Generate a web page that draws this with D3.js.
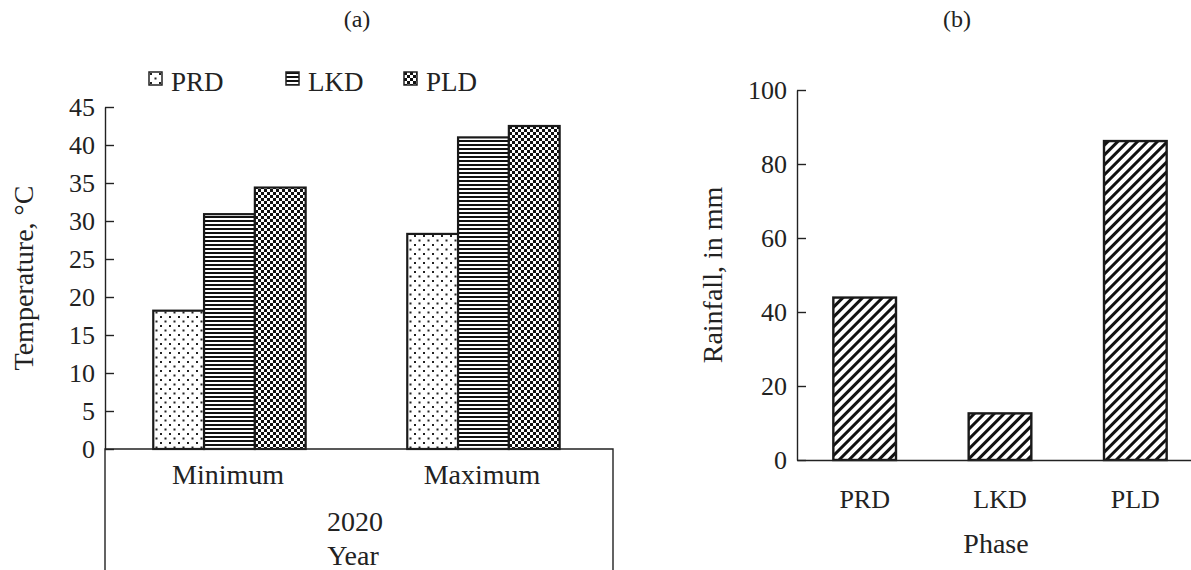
<!DOCTYPE html>
<html>
<head>
<meta charset="utf-8">
<script src="https://cdn.jsdelivr.net/npm/d3@7"></script>
<style>
  html, body { margin: 0; padding: 0; background: #fff; }
  svg { display: block; font-family: "Liberation Serif", "Times New Roman", serif; }
</style>
</head>
<body>
<svg id="chart" width="1191" height="570"></svg>
<script>
// Panel (a): air temperature by lockdown phase, 2020
const tempCategories = ["Minimum", "Maximum"];
const tempSeries = ["PRD", "LKD", "PLD"];
const tempPRD = [18.2, 28.3];
const tempLKD = [30.9, 41.0];
const tempPLD = [34.4, 42.5];
const tempTicks = [0, 5, 10, 15, 20, 25, 30, 35, 40, 45];

// Panel (b): rainfall by phase
const rainPhases = ["PRD", "LKD", "PLD"];
const rainValues = [43.9, 12.6, 86.2];
const rainTicks = [0, 20, 40, 60, 80, 100];

const svg = d3.select("#chart");
const defs = svg.append("defs");

// Fill patterns
function pattern(id, w, h, transform) {
  const p = defs.append("pattern").attr("id", id)
    .attr("patternUnits", "userSpaceOnUse").attr("width", w).attr("height", h);
  if (transform) p.attr("patternTransform", transform);
  p.append("rect").attr("width", w).attr("height", h).attr("fill", "#fff");
  return p;
}
const pDots = pattern("pat-prd", 9, 9);
pDots.append("rect").attr("x", 1).attr("y", 1).attr("width", 2).attr("height", 2).attr("fill", "#222");
pDots.append("rect").attr("x", 5.5).attr("y", 5.5).attr("width", 2).attr("height", 2).attr("fill", "#222");

const pLines = pattern("pat-lkd", 4, 4);
pLines.append("rect").attr("x", 0).attr("y", 0).attr("width", 4).attr("height", 2).attr("fill", "#111");

const pCheck = pattern("pat-pld", 6, 6);
pCheck.append("rect").attr("x", 0).attr("y", 0).attr("width", 3).attr("height", 3).attr("fill", "#111");
pCheck.append("rect").attr("x", 3).attr("y", 3).attr("width", 3).attr("height", 3).attr("fill", "#111");

const pHatch = pattern("pat-hatch", 7, 7, "rotate(45)");
pHatch.append("rect").attr("x", 0).attr("y", 0).attr("width", 3).attr("height", 7).attr("fill", "#111");

const fills = { PRD: "url(#pat-prd)", LKD: "url(#pat-lkd)", PLD: "url(#pat-pld)" };
const FONT = 28;       // axis titles and category labels
const TICK_FONT = 26;  // tick labels
const LEG_FONT = 27;   // legend entries

// ---------- Panel (a) ----------
const aLeft = 105, aRight = 613, aTop = 107, aBottom = 449;
const yA = d3.scaleLinear().domain([0, 45]).range([aBottom, aTop]);
const x0 = d3.scaleBand().domain(tempCategories).range([aLeft, aRight]);
const bw = x0.bandwidth();
const x1 = d3.scaleBand().domain(tempSeries).range([bw * 0.19, bw * 0.79]);

const tempData = tempCategories.map((c, i) => ({
  cat: c,
  values: [
    { key: "PRD", v: tempPRD[i] },
    { key: "LKD", v: tempLKD[i] },
    { key: "PLD", v: tempPLD[i] }
  ]
}));

const gA = svg.append("g");
gA.selectAll("g.grp").data(tempData).join("g")
  .attr("transform", d => `translate(${x0(d.cat)},0)`)
  .selectAll("rect").data(d => d.values).join("rect")
  .attr("x", d => x1(d.key))
  .attr("y", d => yA(d.v))
  .attr("width", x1.bandwidth())
  .attr("height", d => aBottom - yA(d.v))
  .attr("fill", d => fills[d.key])
  .attr("stroke", "#1a1a1a")
  .attr("stroke-width", 2.2);

// y axis with inward ticks
const axA = gA.append("g").attr("transform", `translate(${aLeft},0)`)
  .call(d3.axisLeft(yA).tickValues(tempTicks).tickSize(-9).tickSizeOuter(0).tickPadding(10));
axA.select(".domain").attr("stroke", "#222").attr("stroke-width", 1.4);
axA.selectAll(".tick line").attr("stroke", "#222").attr("stroke-width", 1.4);
axA.selectAll(".tick text").attr("font-size", TICK_FONT).attr("fill", "#222")
  .attr("font-family", "Liberation Serif");

// category table box beneath the plot
gA.append("path")
  .attr("d", `M${aLeft},570V${aBottom}H${aRight}V570`)
  .attr("fill", "none").attr("stroke", "#222").attr("stroke-width", 1.4);

gA.selectAll("text.cat").data(tempCategories).join("text")
  .attr("class", "cat")
  .attr("x", d => x0(d) + bw / 2 - 4)
  .attr("y", 484)
  .attr("text-anchor", "middle").attr("font-size", FONT).attr("fill", "#222")
  .text(d => d);

gA.append("text").attr("x", (aLeft + aRight) / 2 - 4).attr("y", 531)
  .attr("text-anchor", "middle").attr("font-size", FONT).attr("fill", "#222").text("2020");
gA.append("text").attr("x", (aLeft + aRight) / 2 - 6).attr("y", 565)
  .attr("text-anchor", "middle").attr("font-size", FONT).attr("fill", "#222").text("Year");

gA.append("text")
  .attr("transform", `translate(33,${(aTop + aBottom) / 2}) rotate(-90)`)
  .attr("text-anchor", "middle").attr("font-size", FONT).attr("fill", "#222")
  .text("Temperature, °C");

gA.append("text").attr("x", 357).attr("y", 27)
  .attr("text-anchor", "middle").attr("font-size", 24).attr("fill", "#222").text("(a)");

// legend
const legendX = [149, 286, 404];
const leg = gA.selectAll("g.leg").data(tempSeries).join("g")
  .attr("transform", (d, i) => `translate(${legendX[i]},72)`);
leg.append("rect").attr("width", 13).attr("height", 13)
  .attr("fill", d => fills[d]).attr("stroke", "#222").attr("stroke-width", 1.5);
leg.append("text").attr("x", 22).attr("y", 19)
  .attr("font-size", LEG_FONT).attr("fill", "#222").text(d => d);

// ---------- Panel (b) ----------
const bLeft = 797, bRight = 1203, bTop = 90, bBottom = 460;
const yB = d3.scaleLinear().domain([0, 100]).range([bBottom, bTop]);
const xB = d3.scaleBand().domain(rainPhases).range([bLeft, bRight])
  .paddingInner(0.537).paddingOuter(0.2685);

const gB = svg.append("g");
gB.selectAll("rect.bar").data(rainPhases.map((p, i) => ({ p, v: rainValues[i] }))).join("rect")
  .attr("class", "bar")
  .attr("x", d => xB(d.p))
  .attr("y", d => yB(d.v))
  .attr("width", xB.bandwidth())
  .attr("height", d => bBottom - yB(d.v))
  .attr("fill", "url(#pat-hatch)")
  .attr("stroke", "#1a1a1a").attr("stroke-width", 2.4);

const axB = gB.append("g").attr("transform", `translate(${bLeft},0)`)
  .call(d3.axisLeft(yB).tickValues(rainTicks).tickSize(-9).tickSizeOuter(0).tickPadding(10));
axB.select(".domain").attr("stroke", "#222").attr("stroke-width", 1.4);
axB.selectAll(".tick line").attr("stroke", "#222").attr("stroke-width", 1.4);
axB.selectAll(".tick text").attr("font-size", TICK_FONT).attr("fill", "#222")
  .attr("font-family", "Liberation Serif");

const axBx = gB.append("g").attr("transform", `translate(0,${bBottom})`)
  .call(d3.axisBottom(xB).tickSize(0).tickSizeOuter(0).tickPadding(30));
axBx.select(".domain").attr("stroke", "#222").attr("stroke-width", 1.6);
axBx.selectAll(".tick text").attr("font-size", TICK_FONT).attr("fill", "#222")
  .attr("font-family", "Liberation Serif");

gB.append("text").attr("x", 996).attr("y", 553)
  .attr("text-anchor", "middle").attr("font-size", FONT).attr("fill", "#222").text("Phase");

gB.append("text")
  .attr("transform", `translate(722,${(bTop + bBottom) / 2}) rotate(-90)`)
  .attr("text-anchor", "middle").attr("font-size", FONT).attr("fill", "#222")
  .text("Rainfall, in mm");

gB.append("text").attr("x", 957).attr("y", 27)
  .attr("text-anchor", "middle").attr("font-size", 24).attr("fill", "#222").text("(b)");
</script>
</body>
</html>
